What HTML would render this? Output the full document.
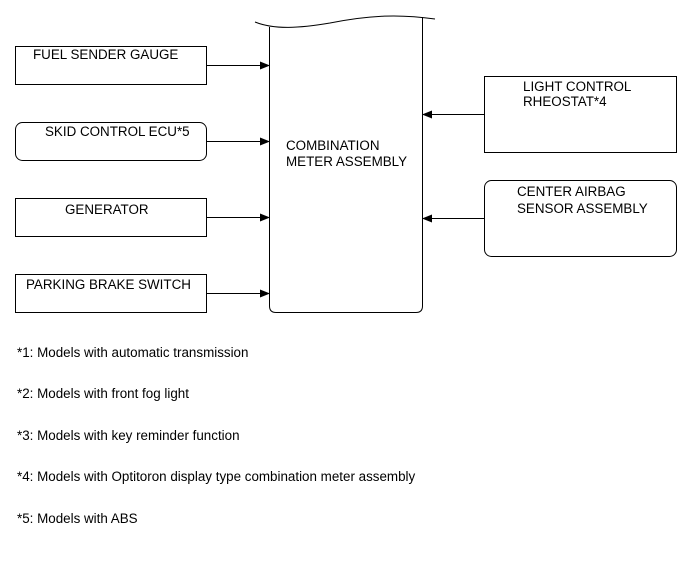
<!DOCTYPE html>
<html><head><style>
body{margin:0;background:#fff;width:691px;height:562px;overflow:hidden}
svg text{font-family:"Liberation Sans",Arial,sans-serif;font-size:13.4px;fill:#000}
</style></head><body>
<svg width="691" height="562" viewBox="0 0 691 562" xmlns="http://www.w3.org/2000/svg">
<defs><marker id="a" markerWidth="10" markerHeight="8" refX="9" refY="4" orient="auto" markerUnits="userSpaceOnUse"><path d="M0,0 L10,4 L0,8 Z" fill="#000"/></marker></defs>
<g fill="none" stroke="#000" stroke-width="1">
<rect x="15.5" y="46.5" width="191" height="38"/>
<rect x="15.5" y="122.5" width="191" height="38" rx="7"/>
<rect x="15.5" y="198.5" width="191" height="38"/>
<rect x="15.5" y="274.5" width="191" height="38"/>
<rect x="484.5" y="76.5" width="192" height="76"/>
<rect x="484.5" y="180.5" width="192" height="76" rx="7"/>
<path d="M269.5,27 L269.5,306 Q269.5,312.5 276,312.5 L416,312.5 Q422.5,312.5 422.5,306 L422.5,17"/>
<path d="M255,22 C275,30 300,28 330,23 C370,15 400,14 435,19"/>
<line x1="206" y1="65.5" x2="269" y2="65.5" marker-end="url(#a)"/>
<line x1="206" y1="141.5" x2="269" y2="141.5" marker-end="url(#a)"/>
<line x1="206" y1="217.5" x2="269" y2="217.5" marker-end="url(#a)"/>
<line x1="206" y1="293.5" x2="269" y2="293.5" marker-end="url(#a)"/>
<line x1="484" y1="114.5" x2="423" y2="114.5" marker-end="url(#a)"/>
<line x1="484" y1="218.5" x2="423" y2="218.5" marker-end="url(#a)"/>
</g>
<text x="33" y="59">FUEL SENDER GAUGE</text>
<text x="45" y="136">SKID CONTROL ECU*5</text>
<text x="65" y="214">GENERATOR</text>
<text x="26" y="289">PARKING BRAKE SWITCH</text>
<text x="286" y="150">COMBINATION</text>
<text x="286" y="166">METER ASSEMBLY</text>
<text x="523" y="91">LIGHT CONTROL</text>
<text x="523" y="106">RHEOSTAT*4</text>
<text x="517" y="196">CENTER AIRBAG</text>
<text x="517" y="213">SENSOR ASSEMBLY</text>
<text x="17" y="357">*1: Models with automatic transmission</text>
<text x="17" y="398">*2: Models with front fog light</text>
<text x="17" y="440">*3: Models with key reminder function</text>
<text x="17" y="481">*4: Models with Optitoron display type combination meter assembly</text>
<text x="17" y="523">*5: Models with ABS</text>
</svg>
</body></html>
